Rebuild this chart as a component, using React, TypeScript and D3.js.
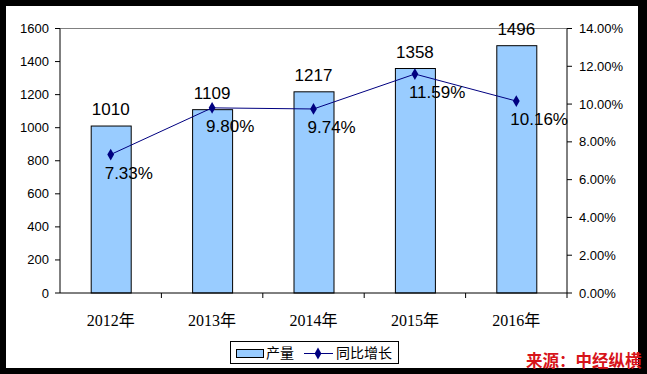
import React from "react";
import * as d3 from "d3";

const years = ["2012年", "2013年", "2014年", "2015年", "2016年"];
const output = [1010, 1109, 1217, 1358, 1496];
const growth = [7.33, 9.8, 9.74, 11.59, 10.16];
const leftTicks = [0, 200, 400, 600, 800, 1000, 1200, 1400, 1600];
const rightTicks = [0, 2, 4, 6, 8, 10, 12, 14];

const W = 647;
const H = 374;
const plot = { left: 60, right: 567, top: 28.5, bottom: 293 };

const App = () => {
  const x = d3
    .scaleBand()
    .domain(years)
    .range([plot.left, plot.right])
    .paddingInner(0)
    .paddingOuter(0);
  const yL = d3.scaleLinear().domain([0, 1600]).range([plot.bottom, plot.top]);
  const yR = d3.scaleLinear().domain([0, 14]).range([plot.bottom, plot.top]);
  const barW = 40;
  const cx = (c) => (x(c) || 0) + x.bandwidth() / 2;

  const line = d3
    .line<number>()
    .x((d, i) => cx(years[i]))
    .y((d) => yR(d));

  const diamond = d3.symbol().type(d3.symbolDiamond).size(40)();
  const sans = "Arial, 'Liberation Sans', sans-serif";

  return (
    <svg
      width={W}
      height={H}
      style={{ position: "absolute", left: 0, top: 0, display: "block" }}
    >
      <rect x={0} y={0} width={W} height={H} fill="#000" />
      <rect x={6} y={6} width={632} height={362} fill="#fff" />

      {/* top border of plot */}
      <line x1={plot.left} x2={plot.right} y1={plot.top} y2={plot.top} stroke="#808080" />

      {/* bars */}
      {output.map((v, i) => (
        <rect
          key={years[i]}
          x={cx(years[i]) - barW / 2 + 0.5}
          y={yL(v)}
          width={barW}
          height={plot.bottom - yL(v)}
          fill="#99CCFF"
          stroke="#000"
          strokeWidth={1}
        />
      ))}

      {/* left axis */}
      <line x1={plot.left} x2={plot.left} y1={plot.top} y2={plot.bottom} stroke="#000" />
      {leftTicks.map((t) => (
        <g key={t}>
          <line x1={plot.left - 5} x2={plot.left} y1={yL(t)} y2={yL(t)} stroke="#000" />
          <text
            x={49}
            y={yL(t)}
            dy="0.35em"
            textAnchor="end"
            fontFamily={sans}
            fontSize={13}
            fill="#000"
          >
            {t}
          </text>
        </g>
      ))}

      {/* right axis */}
      <line x1={plot.right} x2={plot.right} y1={plot.top} y2={plot.bottom} stroke="#000" />
      {rightTicks.map((t) => (
        <g key={t}>
          <line x1={plot.right} x2={plot.right + 5} y1={yR(t)} y2={yR(t)} stroke="#000" />
          <text
            x={579}
            y={yR(t)}
            dy="0.35em"
            textAnchor="start"
            fontFamily={sans}
            fontSize={13}
            fill="#000"
          >
            {t.toFixed(2) + "%"}
          </text>
        </g>
      ))}

      {/* bottom axis */}
      <line x1={plot.left} x2={plot.right} y1={plot.bottom} y2={plot.bottom} stroke="#000" />
      {years.map((c) => (
        <line
          key={c}
          x1={(x(c) || 0) + x.bandwidth()}
          x2={(x(c) || 0) + x.bandwidth()}
          y1={plot.bottom}
          y2={plot.bottom + 5}
          stroke="#000"
        />
      ))}
      {years.map((c) => (
        <text
          key={c}
          x={cx(c)}
          y={326}
          textAnchor="middle"
          fontFamily="'Liberation Serif', 'Noto Sans CJK SC', serif"
          fontSize={16}
          fill="#000"
        >
          {c}
        </text>
      ))}

      {/* growth line */}
      <path d={line(growth) || ""} fill="none" stroke="#000080" strokeWidth={1} />
      {growth.map((g, i) => (
        <path
          key={i}
          d={diamond || ""}
          transform={`translate(${cx(years[i])},${yR(g)})`}
          fill="#000080"
        />
      ))}

      {/* bar labels */}
      {output.map((v, i) => (
        <text
          key={i}
          x={cx(years[i])}
          y={yL(v) - 11}
          textAnchor="middle"
          fontFamily={sans}
          fontSize={17}
          fill="#000"
        >
          {v}
        </text>
      ))}

      {/* growth labels */}
      {growth.map((g, i) => (
        <text
          key={i}
          x={cx(years[i]) - 6}
          y={yR(g) + 24}
          textAnchor="start"
          fontFamily={sans}
          fontSize={17}
          fill="#000"
        >
          {g.toFixed(2) + "%"}
        </text>
      ))}

      {/* legend */}
      <rect x={230.5} y={341.5} width={168} height={22} fill="#fff" stroke="#000" />
      <rect x={236.5} y={349.5} width={27} height={8} fill="#99CCFF" stroke="#000" />
      <text x={266} y={358} fontFamily="'Noto Sans CJK SC', sans-serif" fontSize={14} fill="#000">
        产量
      </text>
      <line x1={304} x2={333} y1={353.5} y2={353.5} stroke="#000080" />
      <path d={diamond || ""} transform="translate(318,353.5)" fill="#000080" />
      <text x={336} y={358} fontFamily="'Noto Sans CJK SC', sans-serif" fontSize={14} fill="#000">
        同比增长
      </text>

      {/* source watermark */}
      <text
        x={526}
        y={367}
        fontFamily="'Noto Sans CJK SC', sans-serif"
        fontSize={16.5}
        fontWeight="bold"
        fill="#D7141A"
      >
        来源：中经纵横
      </text>
    </svg>
  );
};

export default App;
